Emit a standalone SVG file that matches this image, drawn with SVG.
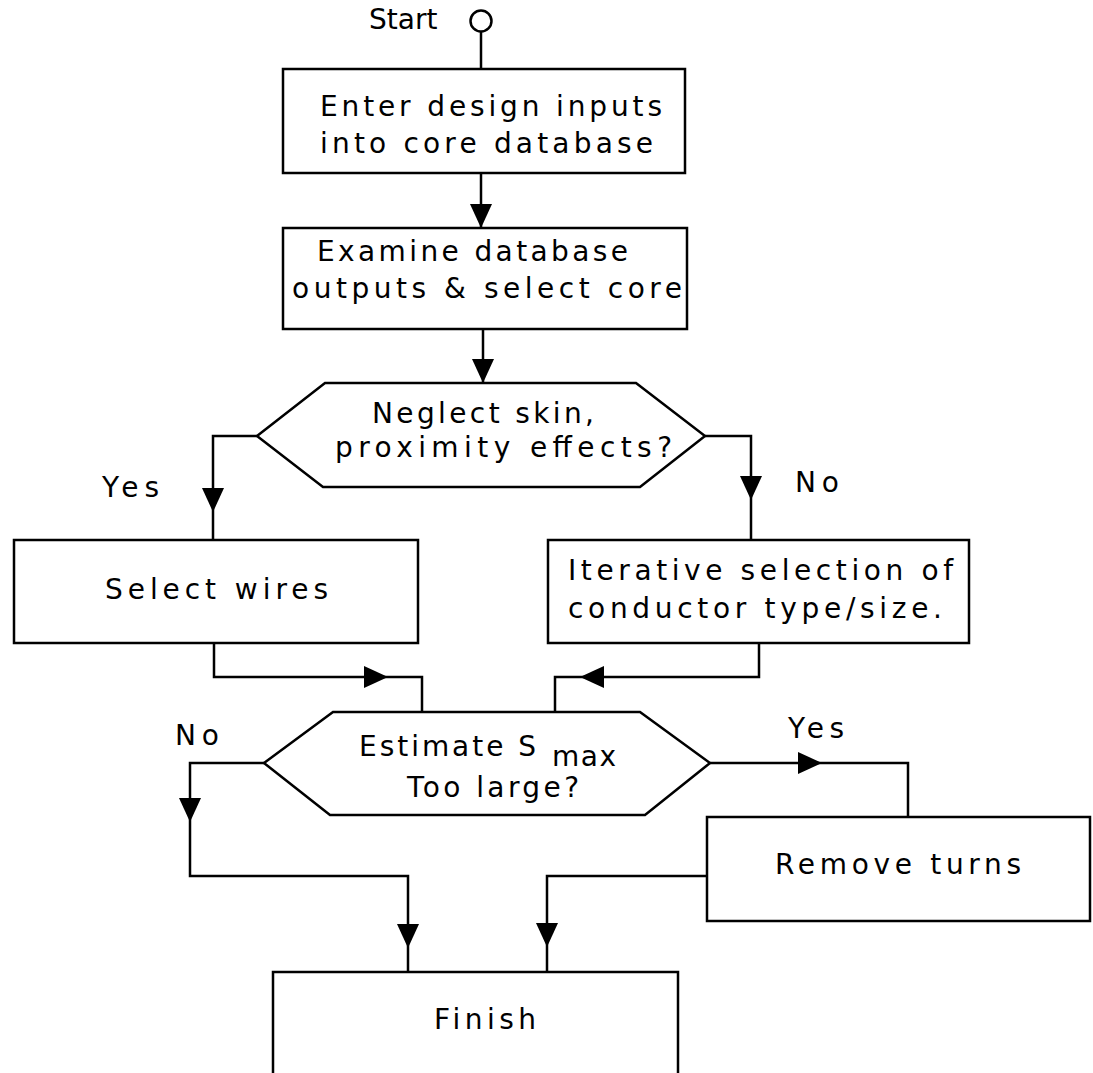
<svg xmlns="http://www.w3.org/2000/svg" xmlns:xlink="http://www.w3.org/1999/xlink" width="1093" height="1073" viewBox="0 0 1093 1073">
<style>
.shape{fill:#ffffff;stroke:#000000;stroke-width:2.5}
.line{fill:none;stroke:#000000;stroke-width:2.5}
.t{font-family:"DejaVu Sans","Liberation Sans",sans-serif;font-size:28px;fill:#000000}
</style>
<defs>
<path id="ah" d="M0,0 L-11,-24 L11,-24 Z" fill="#000000"/>
</defs>
<rect width="1093" height="1073" fill="#ffffff"/>
<g id="connectors">
<line class="line" x1="481" y1="31" x2="481" y2="69"/>
<line class="line" x1="481" y1="173" x2="481" y2="228"/>
<line class="line" x1="483" y1="329" x2="483" y2="383"/>
<path class="line" d="M257,436 H213 V540"/>
<path class="line" d="M705,436 H751 V540"/>
<path class="line" d="M214,643 V677 H422 V712"/>
<path class="line" d="M759,643 V677 H555 V712"/>
<path class="line" d="M264,763 H190 V876 H408 V972"/>
<path class="line" d="M710,763 H908 V817"/>
<path class="line" d="M707,876 H547 V972"/>
<use xlink:href="#ah" href="#ah" transform="translate(481,228)"/>
<use xlink:href="#ah" href="#ah" transform="translate(483,383)"/>
<use xlink:href="#ah" href="#ah" transform="translate(213,512)"/>
<use xlink:href="#ah" href="#ah" transform="translate(751,500)"/>
<use xlink:href="#ah" href="#ah" transform="translate(388,677) rotate(-90)"/>
<use xlink:href="#ah" href="#ah" transform="translate(580,677) rotate(90)"/>
<use xlink:href="#ah" href="#ah" transform="translate(190,822)"/>
<use xlink:href="#ah" href="#ah" transform="translate(822,763) rotate(-90)"/>
<use xlink:href="#ah" href="#ah" transform="translate(408,948)"/>
<use xlink:href="#ah" href="#ah" transform="translate(547,947)"/>
<text class="t" x="102" y="497" textLength="57" lengthAdjust="spacing">Yes</text>
<text class="t" x="795" y="492" textLength="44" lengthAdjust="spacing">No</text>
<text class="t" x="175" y="745" textLength="44" lengthAdjust="spacing">No</text>
<text class="t" x="788" y="738" textLength="56" lengthAdjust="spacing">Yes</text>
</g>
<g id="start">
<circle class="shape" cx="481" cy="21" r="10.5"/>
<text class="t" x="369" y="29">Start</text>
</g>
<g id="enter">
<rect class="shape" x="283" y="69" width="402" height="104"/>
<text class="t" x="320" y="116" textLength="342" lengthAdjust="spacing">Enter design inputs</text>
<text class="t" x="320" y="153" textLength="333" lengthAdjust="spacing">into core database</text>
</g>
<g id="examine">
<rect class="shape" x="283" y="228" width="404" height="101"/>
<text class="t" x="317" y="261" textLength="311" lengthAdjust="spacing">Examine database</text>
<text class="t" x="292" y="298" textLength="390" lengthAdjust="spacing">outputs &amp; select core</text>
</g>
<g id="neglect">
<polygon class="shape" points="257,436 325,383 636,383 705,436 640,487 323,487"/>
<text class="t" x="372" y="423" textLength="222" lengthAdjust="spacing">Neglect skin,</text>
<text class="t" x="335" y="457" textLength="337" lengthAdjust="spacing">proximity effects?</text>
</g>
<g id="select-wires">
<rect class="shape" x="14" y="540" width="404" height="103"/>
<text class="t" x="105" y="599" textLength="223" lengthAdjust="spacing">Select wires</text>
</g>
<g id="iterative">
<rect class="shape" x="548" y="540" width="421" height="103"/>
<text class="t" x="568" y="580" textLength="385" lengthAdjust="spacing">Iterative selection of</text>
<text class="t" x="568" y="618" textLength="374" lengthAdjust="spacing">conductor type/size.</text>
</g>
<g id="estimate">
<polygon class="shape" points="264,763 333,712 640,712 710,763 645,815 330,815"/>
<text class="t" x="359" y="756" textLength="177" lengthAdjust="spacing">Estimate S</text>
<text class="t" x="552" y="766" textLength="64" lengthAdjust="spacing">max</text>
<text class="t" x="407" y="797" textLength="172" lengthAdjust="spacing">Too large?</text>
</g>
<g id="remove-turns">
<rect class="shape" x="707" y="817" width="383" height="104"/>
<text class="t" x="775" y="874" textLength="246" lengthAdjust="spacing">Remove turns</text>
</g>
<g id="finish">
<rect class="shape" x="273" y="972" width="405" height="130"/>
<text class="t" x="434" y="1029" textLength="102" lengthAdjust="spacing">Finish</text>
</g>
</svg>
